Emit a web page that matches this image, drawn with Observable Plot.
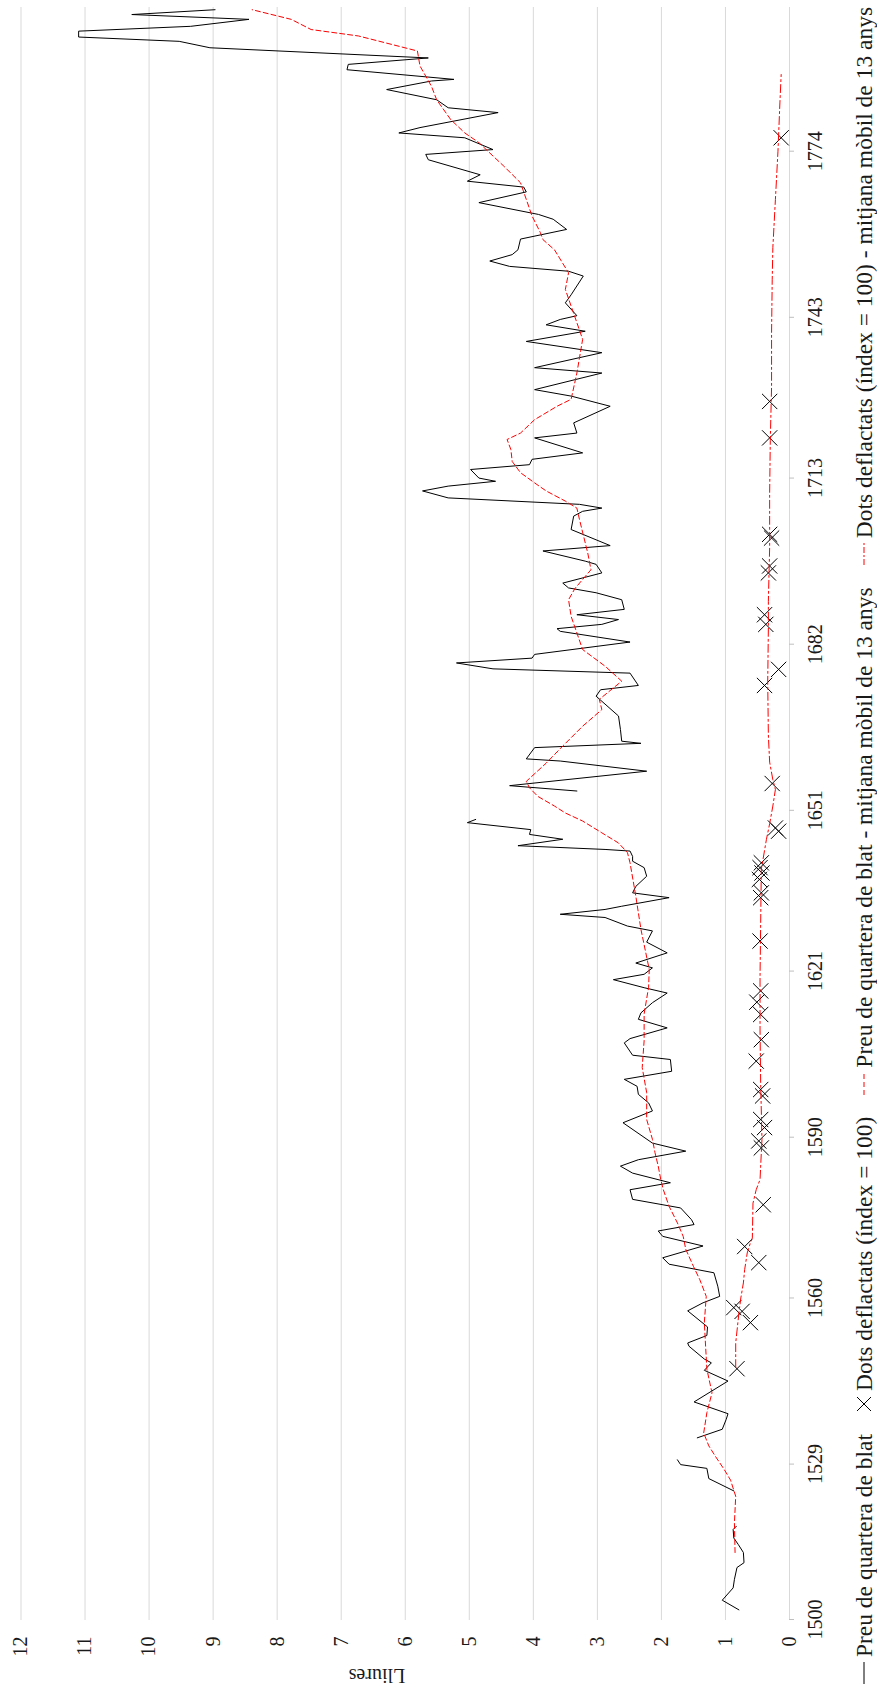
<!DOCTYPE html>
<html><head><meta charset="utf-8">
<script src="https://cdn.jsdelivr.net/npm/d3@7"></script>
<script src="https://cdn.jsdelivr.net/npm/@observablehq/plot@0.6"></script>
<style>
html,body{margin:0;padding:0;background:#fff;width:877px;height:1691px;overflow:hidden}
#frame{position:absolute;left:0;top:0;width:1691px;height:877px;transform-origin:0 0;transform:translate(0px,1691px) rotate(-90deg);font-family:"Liberation Serif","Times New Roman",Times,serif;background:#fff}
#chart{position:absolute;left:0;top:0}
#legend{position:absolute;left:0;top:843px;width:1691px;height:42px;font-size:23.5px;color:#1a1a1a;font-family:"Liberation Serif","Times New Roman",Times,serif;display:flex;justify-content:center;align-items:center;gap:22px}
.item{height:42px;display:flex;align-items:center;white-space:nowrap}
.item svg{margin-right:5px}
</style></head><body>
<div id="frame"><div id="chart"></div><div id="legend"></div></div>
<script>
// Year axis tick labels and value ticks
const yearTicks = [1500, 1529, 1560, 1590, 1621, 1651, 1682, 1713, 1743, 1774];
const valueTicks = [0,1,2,3,4,5,6,7,8,9,10,11,12];

// Preu de quartera de blat (lliures); null = gap in the series
const priceYear = [1501.8,1503.6,1505.9,1507.5,1509.7,1510.6,1512.5,1514.0,1515.2,1516.8,1517.4,1520,
 1524.0,1526.3,1528.2,1528.9,1529.8,1532,
 1533.9,1535.5,1537.3,1538.4,1540.6,1544.5,1546.5,1547.9,1548.6,1551.0,1551.6,1553.0,1554.6,
 1557.6,1559.1,1560.3,1562.2,1564.7,1566.3,1567.5,1569.7,1571.5,1572.5,1573.7,1574.6,1576.8,1578.4,1580.2,1581.5,1583.3,1584.6,1585.8,1587.4,1588.9,
 1592.7,1594.9,1596.4,1598.0,1599.5,1600.8,1602.3,1604.5,1605.3,1607.6,1608.4,1610.4,1612.0,1613.2,1615.1,1616.9,1617.9,1619.4,1620.4,1621.6,
 1622.5,1624.4,1626.4,1628.5,1629.4,1631.0,1631.6,1632.5,1633.1,1634.7,1635.6,1636.8,1638.7,1640.3,1641.5,1642.4,1643.4,1643.7,1644.4,1645.6,1646.5,1647.4,1648.7,1649.3,1652,
 1654.6,1655.6,1658.3,1660.2,1660.6,1662.7,1663.5,1663.9,1666.1,1668.6,1672.3,1673.5,1674.3,1676.6,1677.4,1678.5,1679.4,1680.1,1682.4,1684.4,1684.9,1685.7,1686.6,1687.5,1688.5,1690.3,
 1691.6,1692.5,1693.4,1695.3,1696.9,1697.5,1699.4,1700.4,1703.4,1705.9,1706.8,1707.4,1708.1,1709.3,1710.6,1711.5,1712.4,1713.0,1714.6,1715.5,1716.5,1717.7,1720.5,1721.4,1723.3,
 1726.4,1728.3,1729.5,1732.6,1733.6,1736.4,1738.5,1740.4,1741.6,1742.6,1743.3,1745.7,1747.2,1750.7,1751.6,1752.5,1753.5,1754.7,1755.6,
 1757.6,1759.4,1761.3,1762.2,1764.4,1766.4,1767.3,1768.4,1769.6,1772.4,1773.4,1774.3,1776.5,1777.4,1778.4,1781.2,1782.1,1783.6,1785.5,1787.1,1787.4,1789.2,1790.2,1791.4,1793.3,1794.5,1795.3,1796.4,1797.3,1798.6,1799.5,1800.4];
const priceValue = [0.79,1.05,0.88,0.86,0.82,0.71,0.72,0.80,0.87,0.88,0.83,null,
 0.87,1.26,1.29,1.70,1.75,null,
 1.44,1.05,0.99,0.96,1.49,0.96,1.33,1.22,1.33,1.57,1.59,1.29,1.28,
 1.59,1.35,1.09,1.12,1.18,1.88,1.98,1.35,1.98,2.05,1.49,1.53,1.70,2.45,2.49,1.86,2.45,2.64,2.36,1.62,2.14,
 2.60,2.14,2.20,2.36,2.38,2.58,1.84,1.86,2.45,2.58,2.49,1.91,2.36,2.32,2.14,1.91,2.27,2.75,2.27,2.14,
 2.40,1.91,2.23,2.14,2.53,2.88,3.58,2.88,2.62,1.88,2.45,2.40,2.23,2.27,2.45,2.45,2.49,2.88,4.24,3.54,4.06,4.04,5.03,4.90,null,
 3.32,4.37,2.23,3.58,4.11,3.98,2.32,2.62,2.64,2.67,3.02,2.95,2.36,2.49,4.63,5.20,4.02,3.98,2.49,3.58,3.63,2.93,2.67,3.32,2.58,2.62,
 3.02,3.45,3.54,2.93,3.02,3.19,3.85,2.80,3.41,3.37,3.23,2.93,3.28,5.33,5.73,5.33,4.59,4.85,4.98,4.06,4.02,3.23,3.98,3.32,3.37,
 2.80,3.41,3.98,2.93,3.98,2.93,4.11,3.19,3.80,3.58,3.32,3.50,3.41,3.22,3.45,4.37,4.68,4.33,4.24,
 4.20,3.48,3.69,3.92,4.85,4.11,4.15,5.03,4.83,5.64,5.68,4.63,5.07,6.10,5.77,4.55,5.33,5.51,6.29,5.59,5.24,6.91,6.89,5.64,9.05,9.53,11.10,11.10,9.35,8.44,10.27,8.97];

// Preu de quartera de blat - mitjana mòbil de 13 anys
const maPriceYear = [1512.5,1518,1523,1526,1528,1530.5,1532.4,1534.8,1538.6,1542.3,1546.7,1551,1555.4,1560.3,1563.4,1565.9,1569.1,1571.5,1574,1577.1,1580.2,1582.1,1584.6,1587.1,1589.6,1593.3,1598.3,1603,1608,1613,1618,1621.3,1628.8,1635,1641.2,1643.1,1644.9,1646.8,1649,1650.5,1651.8,1653.6,1655.2,1656.4,1659.8,1663.0,1666.7,1669.8,1671.7,1675.1,1677.9,1681.0,1684.1,1687.2,1690.3,1692.4,1695.9,1699,1705.3,1707.4,1708.7,1710.6,1712.1,1714,1716.1,1718.3,1720.2,1721.4,1723.9,1726.4,1727.7,1732.6,1738.9,1745.1,1748.2,1751.3,1755.6,1757.5,1758.8,1761.9,1765,1768.1,1771.2,1773.1,1775.6,1777.4,1779.9,1783.6,1786.1,1789.9,1792.7,1795.5,1796.7,1798.6,1800.4];
const maPriceValue = [0.85,0.86,0.84,0.92,1.02,1.16,1.26,1.34,1.29,1.21,1.29,1.31,1.33,1.30,1.40,1.50,1.62,1.66,1.75,1.88,1.97,2.01,2.05,2.10,2.14,2.23,2.23,2.30,2.27,2.27,2.20,2.19,2.32,2.40,2.49,2.53,2.67,2.93,3.23,3.50,3.67,3.93,4.06,4.11,3.80,3.54,3.23,2.93,2.97,2.62,2.88,3.23,3.32,3.41,3.45,3.35,3.10,3.15,3.28,3.32,3.50,3.80,3.98,4.20,4.33,4.35,4.41,4.20,3.98,3.63,3.41,3.32,3.23,3.41,3.50,3.45,3.67,3.85,3.89,4.02,4.11,4.20,4.46,4.63,4.85,5.07,5.29,5.51,5.59,5.77,5.81,6.73,7.47,7.78,8.39];

// Dots deflactats (índex = 100)
const dotsYear = [1546.8,1555.4,1557.5,1558.2,1566.6,1569.6,1577.4,1588.0,1589.3,1591.8,1593.3,1597.7,1598.9,1604.2,1608.2,1612.9,1615.2,1617.3,1626.6,1634.7,1635.6,1638.1,1639.3,1640.3,1641.2,1647.1,1647.7,1656.0,1674.3,1677.3,1685.7,1687.5,1695.3,1696.6,1701.8,1702.5,1720.5,1727.3,1776.5];
const dotsValue = [0.82,0.61,0.74,0.87,0.48,0.70,0.41,0.44,0.48,0.39,0.45,0.42,0.45,0.52,0.44,0.45,0.51,0.45,0.46,0.45,0.44,0.47,0.43,0.46,0.44,0.17,0.22,0.27,0.39,0.17,0.37,0.39,0.33,0.31,0.28,0.31,0.31,0.31,0.13];

// Dots deflactats (índex = 100) - mitjana mòbil de 13 anys
const maDotsYear = [1547,1551.6,1557.2,1560,1562.8,1565.3,1568.4,1570.3,1571.2,1577.7,1580.2,1582.1,1589.6,1600,1610,1620,1630,1640,1645.6,1648.5,1651.8,1654.9,1656.7,1660,1665,1675,1685,1690,1700,1710,1720,1730,1740,1750,1756,1765,1774,1783,1788.3];
const maDotsValue = [0.84,0.84,0.79,0.76,0.72,0.70,0.66,0.61,0.58,0.57,0.52,0.46,0.43,0.45,0.46,0.46,0.45,0.44,0.36,0.31,0.26,0.22,0.26,0.31,0.33,0.34,0.33,0.33,0.31,0.31,0.30,0.28,0.28,0.27,0.26,0.22,0.18,0.15,0.13];

const rows = (xs, ys) => xs.map((x, i) => ({year: x, value: ys[i]}));
const price = rows(priceYear, priceValue);
const maPrice = rows(maPriceYear, maPriceValue);
const dots = rows(dotsYear, dotsValue);
const maDots = rows(maDotsYear, maDotsValue);

const RED = "#ff0000";
const DASH = "5,3";
const DASHDOT = "8,3,2,3";
const FONT = '"Liberation Serif","Times New Roman",Times,serif';
const TEXT = "#1a1a1a";

const chart = Plot.plot({
  width: 1691, height: 835,
  marginLeft: 71, marginRight: 7, marginTop: 20.5, marginBottom: 46,
  style: {fontFamily: FONT, fontSize: "20px", background: "white", color: TEXT, overflow: "visible"},
  x: {domain: [1500, 1801]},
  y: {domain: [0, 12]},
  marks: [
    Plot.gridY(valueTicks, {stroke: "#d9d9d9", strokeOpacity: 1, strokeWidth: 1}),
    Plot.axisY(valueTicks, {tickSize: 0, tickPadding: 17, tickFormat: d => String(d), label: null, fill: TEXT, fontSize: 20, fontFamily: FONT}),
    Plot.axisX(yearTicks, {tickSize: 5, tickPadding: 13, tickFormat: d => String(d), label: null, stroke: "#bfbfbf", fill: TEXT, fontSize: 20, fontFamily: FONT}),
    Plot.line(price, {x: "year", y: "value", stroke: "black", strokeWidth: 1}),
    Plot.dot(dots, {x: "year", y: "value", symbol: "times", r: 7, stroke: "black", strokeWidth: 1}),
    Plot.line(maPrice, {x: "year", y: "value", stroke: RED, strokeWidth: 1, strokeDasharray: DASH}),
    Plot.line(maDots, {x: "year", y: "value", stroke: RED, strokeWidth: 1, strokeDasharray: DASHDOT}),
    Plot.text(["Lliures"], {text: d => d, frameAnchor: "left", dx: -56, rotate: -90, fontSize: 20, fontFamily: FONT, fill: TEXT})
  ]
});
document.getElementById("chart").appendChild(chart);

// Legend (below the chart in the unrotated frame)
const legendItems = [
  {label: "Preu de quartera de blat", kind: "line"},
  {label: "Dots deflactats (índex = 100)", kind: "times"},
  {label: "Preu de quartera de blat - mitjana mòbil de 13 anys", kind: "dash"},
  {label: "Dots deflactats (índex = 100) - mitjana mòbil de 13 anys", kind: "dashdot"}
];
const legend = document.getElementById("legend");
for (const it of legendItems) {
  const div = document.createElement("div");
  div.className = "item";
  const ns = "http://www.w3.org/2000/svg";
  const svg = document.createElementNS(ns, "svg");
  svg.setAttribute("width", it.kind === "times" ? 16 : 22);
  svg.setAttribute("height", 16);
  if (it.kind === "times") {
    const p = document.createElementNS(ns, "path");
    p.setAttribute("d", "M1,1L15,15M1,15L15,1");
    p.setAttribute("stroke", "black"); p.setAttribute("fill", "none");
    svg.appendChild(p);
  } else {
    const l = document.createElementNS(ns, "line");
    l.setAttribute("x1", 0); l.setAttribute("x2", 22); l.setAttribute("y1", 8); l.setAttribute("y2", 8);
    l.setAttribute("stroke", it.kind === "line" ? "black" : RED);
    if (it.kind === "dash") l.setAttribute("stroke-dasharray", DASH);
    if (it.kind === "dashdot") l.setAttribute("stroke-dasharray", "6,2,2,2");
    svg.appendChild(l);
  }
  div.appendChild(svg);
  const span = document.createElement("span");
  span.textContent = it.label;
  div.appendChild(span);
  legend.appendChild(div);
}
</script>
</body></html>
